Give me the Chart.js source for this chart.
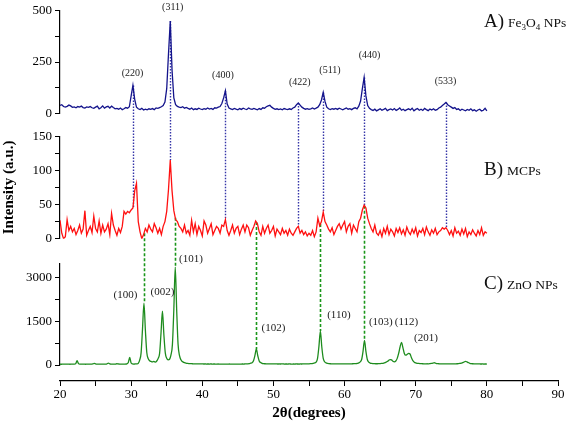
<!DOCTYPE html>
<html>
<head>
<meta charset="utf-8">
<script src="https://cdn.jsdelivr.net/npm/chart.js@4"></script>
<style>
  body { margin: 0; background: #fff; }
</style>
</head>
<body>
<canvas id="xrd" width="567" height="429"></canvas>
<script>
// scan grids (2theta start / step) for each pattern
const feStart = 20, feStep = 0.25;
const mcpStart = 20, mcpStep = 0.25;
const znoStart = 20, znoStep = 0.2;

// A) Fe3O4 NPs, 20..80 step 0.25
const fe3o4 = [
  38, 42, 33, 30,  34, 40, 36, 29,  31, 27, 33, 30,  35, 28, 26, 31,  29, 33, 27, 24,
  30, 35, 22, 27,  36, 25, 31, 34,  26, 35, 28, 22,  24, 20, 26, 18,  22, 28, 25, 32,
  85, 136, 68, 30, 22, 18, 24, 16,  20, 17, 22, 19,  23, 18, 26, 24,  28, 32, 38, 55,
  120, 290, 450, 210, 75, 42, 34, 30, 28, 32, 25, 29, 24, 20, 26, 18, 22, 19, 25, 21,
  18, 23, 20, 26,  21, 24, 19, 27,  25, 30, 33, 48,  75, 110, 45, 26, 22, 18, 24, 20,
  17, 23, 19, 25,  21, 18, 26, 22,  19, 24, 20, 17,  23, 19, 27, 25,  32, 36, 39, 30,
  24, 19, 22, 18,  21, 17, 23, 20,  18, 22, 19, 26,  30, 42, 50, 40,  30, 24, 20, 23,
  19, 22, 26, 21,  25, 30, 42, 65,  102, 58, 30, 22, 18, 23, 20, 24,  19, 25, 21, 17,
  22, 26, 20, 23,  18, 24, 27, 22,  35, 60, 120, 175, 85, 38, 24, 18, 14, 20, 12, 17,
  22, 15, 19, 24,  13, 18, 21, 16,  23, 14, 19, 26,  15, 20, 13, 18,  22, 16, 25, 12,
  19, 23, 15, 20,  14, 24, 18, 13,  21, 16, 22, 15,  18, 26, 30, 38,  45, 53, 42, 36,
  30, 24, 28, 19,  22, 14, 20, 16,  12, 19, 15, 22,  13, 17, 10, 16,  20, 11, 15, 24,
  12
];

// B) MCPs, 20..80 step 0.25
const mcps = [
  27, 8, 0, 3,  28, 12, 18, 10,  15, 6, 12, 20,  8, 14, 41, 5,  12, 18, 9, 33,
  15, 10, 26, 8,  20, 10, 14, 22,  6, 37, 20, 12,  5, 15, 9, 18,  40, 36, 40, 38,
  42, 45, 70, 81,  25, 10, 0, 6,  15, 10, 20, 14,  10, 22, 16, 8,  15, 6, 18, 25,
  40, 72, 115, 70,  41, 28, 25, 18,  15, 10, 20, 8,  12, 5, 27, 10,  22, 6, 18, 12,
  4, 26, 20, 8,  15, 22, 6, 12,  18, 15, 8, 20,  18, 28, 12, 5,  12, 20, 8, 15,
  18, 6, 14, 20,  10, 20, 16, 5,  12, 18, 26, 22,  10, 5, 18, 8,  15, 20, 8, 12,
  18, 4, 14, 10,  6, 15, 8, 12,  5, 14, 8, 5,  10, 15, 18, 8,  12, 6, 10, 4,
  8, 5, 12, 3,  10, 30, 19, 25,  39, 25, 20, 14,  10, 16, 6, 12,  18, 22, 14, 20,
  25, 10, 18, 22,  8, 20, 15, 10,  25, 30, 42, 49,  45, 30, 22, 15,  10, 20, 8, 5,
  12, 3, 15, 8,  18, 6, 14, 10,  4, 15, 9, 16,  7, 13, 5, 17,  10, 6, 14, 8,
  16, 4, 12, 9,  15, 6, 17, 10,  5, 13, 8, 15,  6, 10, 12, 16,  14, 16, 12, 6,
  12, 4, 16, 8,  11, 5, 14, 7,  15, 3, 10, 6,  13, 8, 4, 12,  6, 16, 5, 10,
  8
];

// C) ZnO NPs, 20..80 step 0.2
const zno = [
  30, 28, 32, 30, 34,  30, 32, 29, 33, 31,  32, 45, 150, 50, 31,  30, 33, 31, 29, 32,
  30, 34, 31, 38, 55,  40, 32, 30, 33, 31,  30, 33, 35, 45, 65,  40, 32, 30, 34, 31,
  45, 38, 32, 30, 34,  33, 36, 42, 90, 260,  70, 42, 36, 38, 40,  60, 170, 420, 1250, 2120,
  1200, 430, 220, 150, 125,  110, 125, 100, 140, 230,  400, 1100, 1845, 1050, 420,
  230, 180, 200, 350, 700,  1900, 3360, 1900, 700, 320,  180, 120, 90, 72, 60,
  55, 50, 48, 45, 44,  42, 40, 41, 39, 38,  40, 37, 38, 36, 37,  36, 38, 35, 37, 36,
  35, 37, 36, 34, 36,  35, 36, 34, 35, 37,  34, 36, 35, 33, 35,  36, 34, 35, 37, 36,
  38, 40, 43, 50, 65,  80, 150, 330, 555, 320,  140, 85, 60, 50, 45,  42, 40, 41, 39, 40,
  38, 40, 39, 37, 38,  37, 39, 38, 36, 37,  36, 38, 37, 35, 37,  36, 38, 37, 36, 38,
  37, 39, 38, 40, 42,  44, 47, 52, 60, 75,  100, 230, 650, 1165, 620,  230, 115, 75, 58, 50,
  46, 44, 42, 43, 41,  42, 40, 41, 39, 40,  41, 40, 42, 40, 43,  44, 46, 48, 52, 60,
  75, 110, 190, 480, 850,  470, 190, 100, 70, 58,  52, 48, 46, 45, 47,  50, 55, 62, 75, 95,
  120, 160, 190, 180, 130,  110, 140, 230, 400, 620,  780, 600, 400, 340, 370,  400, 380, 250, 150, 100,
  75, 62, 55, 50, 47,  45, 44, 43, 45, 44,  48, 55, 65, 80, 65,  52, 46, 43, 42, 41,
  40, 41, 39, 40, 41,  40, 42, 41, 43, 45,  48, 55, 65, 85, 105,  125, 110, 85, 62, 50,
  45, 42, 40, 39, 38,  38, 37, 38, 36, 37,
  36
];

// reflections joined between the panels
const feLines = [30.25, 35.5, 43.25, 53.5, 57.0, 62.75, 74.25];
const znoLines = [31.8, 36.2, 47.6, 56.6, 62.8];

// hkl labels (text, 2theta, intensity in panel units)
const feHkl = ['(220)', '(311)', '(400)', '(422)', '(511)', '(440)', '(533)'];
const feHklX = [30.2, 35.84, 42.9, 53.7, 57.95, 63.5, 74.2];
const feHklY = [196, 519, 184, 152, 209, 282, 155];
const znoHkl = ['(100)', '(002)', '(101)', '(102)', '(110)', '(103)', '(112)', '(201)'];
const znoHklX = [29.2, 34.4, 38.4, 50.0, 59.2, 65.1, 68.7, 71.45];
const znoHklY = [2412, 2490, 3624, 1280, 1700, 1460, 1460, 940];

// axis ticks
const ticksA = [0, 125, 250, 375, 500], labelsA = [0, 250, 500];
const ticksB = [0, 25, 50, 75, 100, 125, 150], labelsB = [0, 50, 100, 150];
const ticksC = [0, 750, 1500, 2250, 3000], labelsC = [0, 1500, 3000];
const ticksX = [20, 25, 30, 35, 40, 45, 50, 55, 60, 65, 70, 75, 80, 85, 90];
const labelsX = [20, 30, 40, 50, 60, 70, 80, 90];

const serif = 'Liberation Serif, Times New Roman, serif';
const tickFont = { family: serif, size: 13 };

function toPoints(values, start, step) {
  return values.map((v, i) => ({ x: +(start + i * step).toFixed(2), y: v }));
}

function valueAt(values, start, step, x) {
  const f = (x - start) / step;
  const i = Math.floor(f);
  const t = f - i;
  if (i + 1 >= values.length) return values[values.length - 1];
  return values[i] * (1 - t) + values[i + 1] * t;
}

function panelAxis(max, tickVals, labelVals, weight, stackWeight) {
  return {
    type: 'linear', position: 'left', stack: 'panels', weight: weight, stackWeight: stackWeight,
    min: 0, max: max,
    afterBuildTicks: s => { s.ticks = tickVals.map(v => ({ value: v })); },
    afterFit: s => { s.width = 60; },
    ticks: {
      autoSkip: false, padding: 3, color: '#000', font: tickFont,
      callback: v => labelVals.includes(v) ? String(v) : ''
    },
    grid: { drawOnChartArea: false, tickLength: 5, tickColor: '#000' },
    border: { color: '#000', width: 1.2 }
  };
}

function gapAxis(weight, stackWeight) {
  return {
    type: 'linear', position: 'left', stack: 'panels', weight: weight, stackWeight: stackWeight,
    min: 0, max: 1,
    afterFit: s => { s.width = 60; },
    ticks: { display: false },
    grid: { display: false },
    border: { display: false }
  };
}

const axisB = panelAxis(150, ticksB, labelsB, 4, 103);
axisB.title = {
  display: true, text: 'Intensity (a.u.)', color: '#000',
  font: { family: serif, size: 15, weight: 'bold' }, padding: { top: 0, bottom: 0 }
};

const annotate = {
  id: 'annotate',
  beforeDatasetsDraw(chart) {
    const { ctx, scales } = chart;
    const x = scales.x, yA = scales.yA, yB = scales.yB, yC = scales.yC;
    ctx.save();
    ctx.lineWidth = 1.4;
    ctx.strokeStyle = '#3535a8';
    ctx.setLineDash([1.5, 1.5]);
    feLines.forEach(t => {
      const px = Math.round(x.getPixelForValue(t)) + 0.5;
      ctx.beginPath();
      ctx.moveTo(px, yA.getPixelForValue(valueAt(fe3o4, feStart, feStep, t)));
      ctx.lineTo(px, yB.getPixelForValue(valueAt(mcps, mcpStart, mcpStep, t)));
      ctx.stroke();
    });
    ctx.strokeStyle = '#1a961a';
    ctx.lineWidth = 1.6;
    ctx.setLineDash([3, 2]);
    znoLines.forEach(t => {
      const px = Math.round(x.getPixelForValue(t)) + 0.5;
      ctx.beginPath();
      ctx.moveTo(px, yB.getPixelForValue(valueAt(mcps, mcpStart, mcpStep, t)));
      ctx.lineTo(px, yC.getPixelForValue(valueAt(zno, znoStart, znoStep, t)));
      ctx.stroke();
    });
    ctx.restore();
  },
  afterDatasetsDraw(chart) {
    const { ctx, scales } = chart;
    const x = scales.x;
    ctx.save();
    ctx.fillStyle = '#222';
    ctx.textAlign = 'center';
    ctx.textBaseline = 'middle';
    ctx.font = '10px ' + serif;
    feHkl.forEach((s, i) => ctx.fillText(s, x.getPixelForValue(feHklX[i]), scales.yA.getPixelForValue(feHklY[i])));
    ctx.font = '11px ' + serif;
    znoHkl.forEach((s, i) => ctx.fillText(s, x.getPixelForValue(znoHklX[i]), scales.yC.getPixelForValue(znoHklY[i])));

    // panel names
    ctx.fillStyle = '#111';
    ctx.textAlign = 'left';
    ctx.textBaseline = 'alphabetic';
    const names = [
      [scales.yA, 422, 'A)', [['Fe', 0], ['3', 1], ['O', 0], ['4', 1], [' NPs', 0]]],
      [scales.yB, 93, 'B)', [['MCPs', 0]]],
      [scales.yC, 2616, 'C)', [['ZnO NPs', 0]]]
    ];
    names.forEach(([axis, v, letter, parts]) => {
      let px = x.getPixelForValue(79.6);
      const py = axis.getPixelForValue(v);
      ctx.font = '19px ' + serif;
      ctx.fillText(letter, px, py);
      px += ctx.measureText(letter).width + 4;
      parts.forEach(([txt, sub]) => {
        ctx.font = (sub ? '9px ' : '13.5px ') + serif;
        ctx.fillText(txt, px, py + (sub ? 3 : 0));
        px += ctx.measureText(txt).width;
      });
    });
    ctx.restore();
  }
};

new Chart(document.getElementById('xrd'), {
  type: 'line',
  data: {
    datasets: [
      { label: 'Fe3O4 NPs', data: toPoints(fe3o4, feStart, feStep), yAxisID: 'yA',
        borderColor: '#14148c', borderWidth: 1.3, pointRadius: 0, tension: 0 },
      { label: 'MCPs', data: toPoints(mcps, mcpStart, mcpStep), yAxisID: 'yB',
        borderColor: '#ff1010', borderWidth: 1.3, pointRadius: 0, tension: 0 },
      { label: 'ZnO NPs', data: toPoints(zno, znoStart, znoStep), yAxisID: 'yC',
        borderColor: '#1e8c1e', borderWidth: 1.3, pointRadius: 0, cubicInterpolationMode: 'monotone' }
    ]
  },
  options: {
    responsive: false,
    animation: false,
    layout: { padding: { top: 9, right: 9, bottom: 0, left: 0 } },
    plugins: { legend: { display: false }, tooltip: { enabled: false } },
    scales: {
      x: {
        type: 'linear', position: 'bottom', min: 20, max: 90,
        afterBuildTicks: s => { s.ticks = ticksX.map(v => ({ value: v })); },
        afterFit: s => { s.height = 48; },
        ticks: {
          autoSkip: false, maxRotation: 0, padding: 1, color: '#000', font: tickFont,
          callback: v => labelsX.includes(v) ? String(v) : ''
        },
        grid: { drawOnChartArea: false, tickLength: 5, tickColor: '#000' },
        border: { color: '#000', width: 1.2 },
        title: {
          display: true, text: '2θ(degrees)', color: '#000',
          font: { family: serif, size: 15, weight: 'bold' }, padding: { top: 0, bottom: 7 }
        }
      },
      yA: panelAxis(500, ticksA, labelsA, 6, 103),
      gap1: gapAxis(5, 23),
      yB: axisB,
      gap2: gapAxis(3, 25),
      yC: panelAxis(3480, ticksC, labelsC, 2, 102),
      gap3: gapAxis(1, 16)
    }
  },
  plugins: [annotate]
});
</script>
</body>
</html>
